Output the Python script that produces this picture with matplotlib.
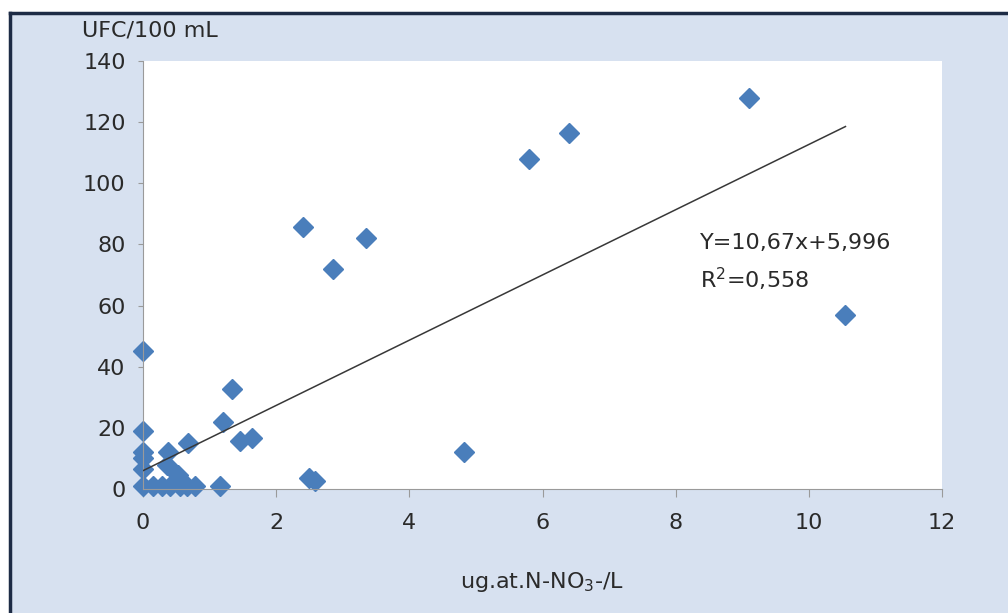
import matplotlib.pyplot as plt
import numpy as np
from matplotlib.patches import Rectangle
from matplotlib.lines import Line2D

# nitrate vs coliform counts
x_vals = [0, 0.15, 0.28, 0.4, 0.55, 0.66, 0.78, 1.15,
          0, 0, 0, 0, 0,
          0.38, 0.36, 0.68, 0.53, 1.33, 1.2, 1.46, 1.63,
          2.5, 2.58, 2.4, 2.85, 3.35, 4.82, 5.8, 6.4, 9.1, 10.55]
y_vals = [1, 1, 1, 1, 1, 1, 1, 1,
          45, 19, 12, 10, 6.5,
          12.2, 8, 15, 4.5, 32.6, 22, 15.8, 16.8,
          3.5, 2.5, 85.8, 72, 82, 12, 108, 116.5, 128, 57]
slope = 10.67
intercept = 5.996
eq_text = "Y=10,67x+5,996"
r2_text = "R$^2$=0,558"
x_ticks = [0, 2, 4, 6, 8, 10, 12]
y_ticks = [0, 20, 40, 60, 80, 100, 120, 140]

bg = "#d7e1f0"
blue = "#4a7ebb"
txt = "#2a2a2a"
fs = 16
plt.rcParams['font.family'] = ['DejaVu Sans']

fig = plt.figure(figsize=(10.08, 6.13), dpi=100)
fig.patch.set_facecolor("white")
W, H = 1008, 613
fig.add_artist(Rectangle((10 / W, 0), 1 - 10 / W, 1 - 13 / H, transform=fig.transFigure,
                         facecolor=bg, edgecolor="none", zorder=-10))
fig.add_artist(Line2D([10 / W, 1], [1 - 13 / H, 1 - 13 / H], transform=fig.transFigure,
                      color="#1d2b45", lw=2.5, zorder=-5))
fig.add_artist(Line2D([10 / W, 10 / W], [0, 1 - 13 / H], transform=fig.transFigure,
                      color="#1d2b45", lw=2.5, zorder=-5))

ax = fig.add_axes([143 / W, 1 - 489 / H, (942 - 143) / W, (489 - 61) / H])
ax.set_zorder(1)
ax.set_facecolor("white")
ax.set_xlim(0, 12)
ax.set_ylim(0, 140)

xl = np.array([min(x_vals), max(x_vals)])
ax.plot(xl, slope * xl + intercept, color="#383838", lw=1.1, zorder=3)
ax.plot(x_vals, y_vals, linestyle="none", marker="D", markersize=10,
        color=blue, markeredgecolor=blue, clip_on=False, zorder=2)

ax.text(8.36, 80.5, eq_text, fontsize=fs, color=txt, va="center")
ax.text(8.36, 68.5, r2_text, fontsize=fs, color=txt, va="center")

for s in ["top", "right"]:
    ax.spines[s].set_visible(False)
for s in ["left", "bottom"]:
    ax.spines[s].set_color("#9a9a9a")
ax.set_xticks(x_ticks)
ax.set_yticks(y_ticks)
ax.tick_params(colors="#9a9a9a", labelcolor=txt, labelsize=fs, direction="out")
ax.tick_params(axis="y", length=3.5, pad=9)
ax.tick_params(axis="x", length=6, pad=11)
ax.set_xlabel(r"ug.at.N-NO$_3$-/L", fontsize=fs, color=txt, labelpad=27)
fig.text(82 / W, 1 - 31 / H, "UFC/100 mL", fontsize=fs, color=txt, va="center")

fig.savefig("out.png", dpi=100, facecolor=fig.get_facecolor())
